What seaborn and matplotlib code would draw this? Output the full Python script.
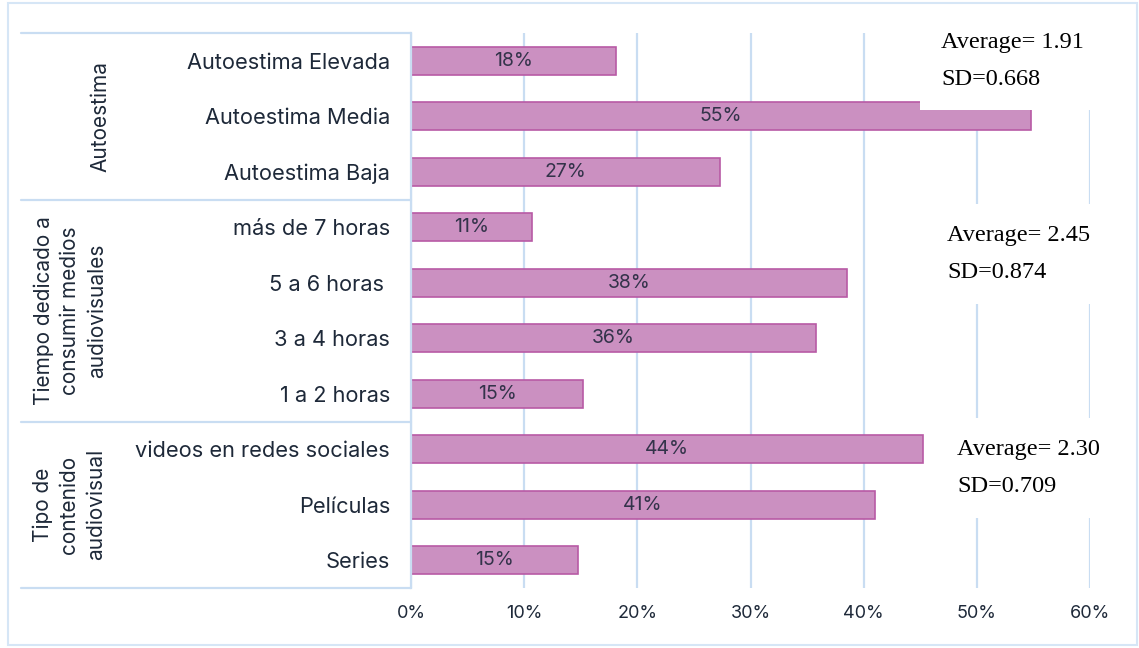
import matplotlib
matplotlib.use("Agg")
import matplotlib.pyplot as plt
from matplotlib.patches import Rectangle
import matplotlib.transforms as mtransforms
import seaborn as sns
import pandas as pd

# ---- data ----
categories = ["Autoestima Elevada", "Autoestima Media", "Autoestima Baja",
              "más de 7 horas", "5 a 6 horas ", "3 a 4 horas", "1 a 2 horas",
              "videos en redes sociales", "Películas", "Series"]
values = [18.1, 54.8, 27.3, 10.7, 38.5, 35.8, 15.2, 45.2, 41.0, 14.8]
value_labels = ["18%", "55%", "27%", "11%", "38%", "36%", "15%", "44%", "41%", "15%"]
groups = ["Autoestima", "Tiempo dedicado a\nconsumir medios\naudiovisuales",
          "Tipo de\ncontenido\naudiovisual"]
group_sizes = [3, 4, 3]
stats = ["Average= 1.91\nSD=0.668", "Average= 2.45\nSD=0.874", "Average= 2.30\nSD=0.709"]
x_ticks = [0, 10, 20, 30, 40, 50, 60]
x_ticklabels = ["0%", "10%", "20%", "30%", "40%", "50%", "60%"]

df = pd.DataFrame({"category": categories, "value": values})

sns.set_theme(style="white")
plt.rcParams["font.family"] = ["Inter", "DejaVu Sans"]

W, H = 1139, 648
fig = plt.figure(figsize=(W / 100, H / 100), dpi=100)
ax = fig.add_axes([411 / W, 1 - 588 / H, 679 / W, 555 / H])

grid_c = "#C9DDF2"
text_c = "#1E2939"

sns.barplot(data=df, x="value", y="category", order=categories, color="#CB90C1",
            edgecolor="#B85AA5", linewidth=1.2, width=0.5, saturation=1, ax=ax, zorder=3)

ax.set_xlim(0, 60)
ax.set_ylim(len(categories) - 0.5, -0.5)
ax.set_xticks(x_ticks)
ax.set_xticklabels(x_ticklabels, fontsize=13, color=text_c)
ax.tick_params(axis="x", length=0, pad=12)
ax.tick_params(axis="y", length=0, pad=15, labelsize=15.7, labelcolor=text_c)
ax.set_xlabel("")
ax.set_ylabel("")

ax.grid(axis="x", color=grid_c, linewidth=1.6, zorder=0)
ax.set_axisbelow(True)
for s in ["top", "right", "bottom"]:
    ax.spines[s].set_visible(False)
ax.spines["left"].set_color(grid_c)
ax.spines["left"].set_linewidth(1.6)
ax.spines["left"].set_zorder(4)

# value labels
ax.bar_label(ax.containers[0], labels=value_labels, label_type="center",
             fontsize=14, color="#33334A", zorder=5)

# group separators and labels
trans = mtransforms.blended_transform_factory(ax.transAxes, ax.transData)
x_left = (21 - 411) / 679
bounds = [-0.5]
for n in group_sizes:
    bounds.append(bounds[-1] + n)
for b in bounds:
    ax.plot([x_left, 0], [b, b], transform=trans, color=grid_c, lw=1.6,
            clip_on=False, zorder=4)
group_x = [(100 - 411) / 679, (70 - 411) / 679, (69 - 411) / 679]
for i, g in enumerate(groups):
    yc = (bounds[i] + bounds[i + 1]) / 2
    ax.text(group_x[i], yc, g, transform=trans, rotation=90, ha="center",
            va="center", multialignment="center", fontsize=15, color=text_c,
            linespacing=1.4, clip_on=False)

# stats annotation boxes (white background hides grid)
stat_x = [(941 - 411) / 679 * 60, (947 - 411) / 679 * 60, (957 - 411) / 679 * 60]
stat_y = [0.0, 3.48, 7.34]
for i, s in enumerate(stats):
    ax.text(stat_x[i], stat_y[i], s,
            ha="left", va="center", fontsize=17.5, color="black",
            family=["Liberation Serif", "DejaVu Serif"], linespacing=2.0,
            zorder=6, clip_on=False,
            bbox=dict(boxstyle="square,pad=0.85", fc="white", ec="none"))

# outer frame
fig.patches.append(Rectangle((8 / W, 3 / H), (1137 - 8) / W, (645 - 3) / H,
                             transform=fig.transFigure, fill=False,
                             edgecolor="#D6E6F6", linewidth=1.5))

fig.savefig("out.png", dpi=100)
